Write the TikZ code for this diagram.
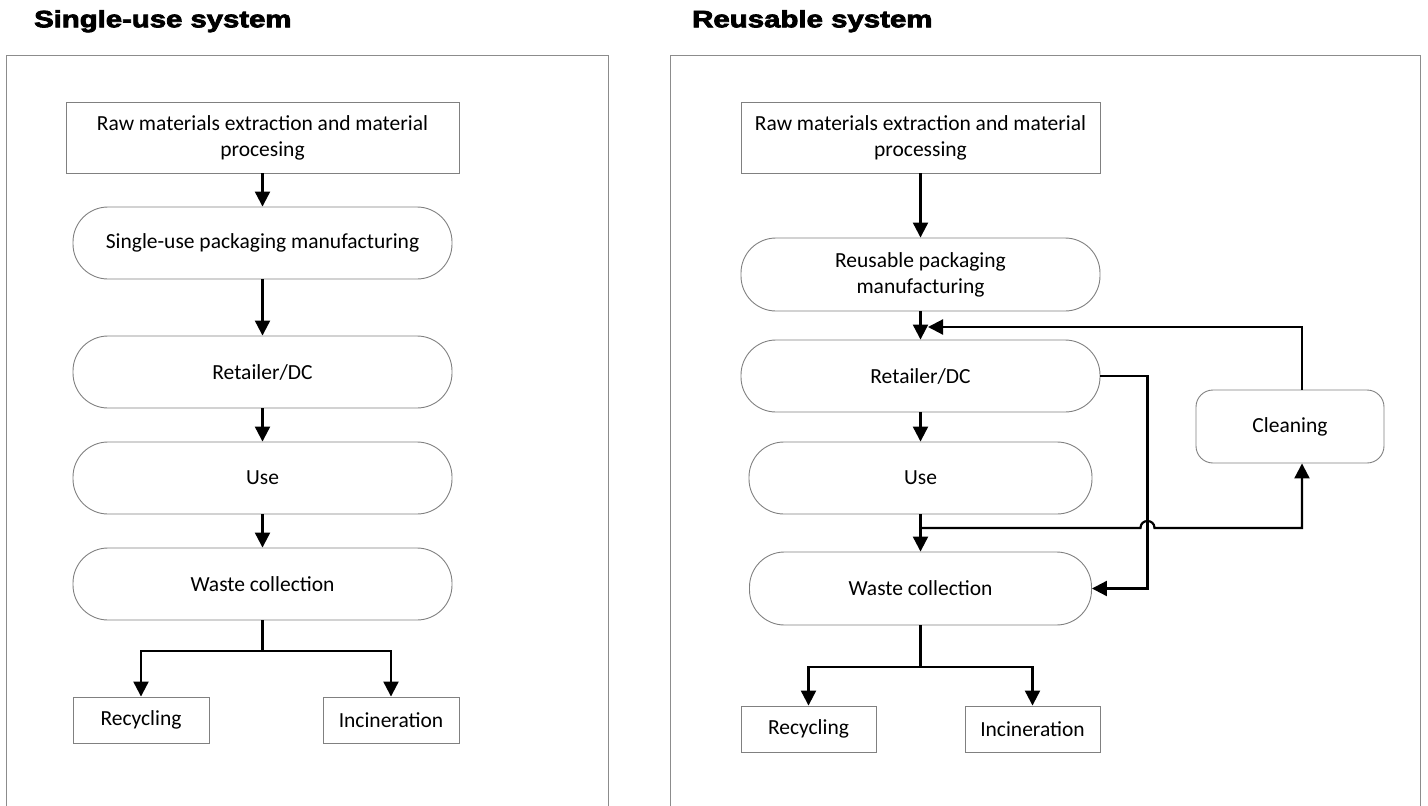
\documentclass[tikz,border=0pt]{standalone}
\usepackage{fontspec}
\setmainfont{Carlito}
\newfontfamily\titlefont[BoldFeatures={FakeBold=3}]{Liberation Sans}
\usetikzlibrary{arrows.meta,calc}
\definecolor{boxgray}{RGB}{128,128,128}
\definecolor{panelgray}{RGB}{140,140,140}
\tikzset{
  x=1pt, y=-1pt,
  box/.style={draw=boxgray, line width=0.9pt, rectangle, inner sep=0pt, align=center,
    font=\fontsize{21.5}{26}\selectfont},
  stad/.style={box, rounded corners=35pt},
  roundbox/.style={box, rounded corners=17pt},
  ln/.style={line width=2.2pt},
  arr/.style={line width=2.2pt, -{Triangle[length=15pt,width=15pt]}},
  panel/.style={draw=panelgray, line width=0.9pt},
  ttl/.style={anchor=base west, inner sep=0pt}
}
\begin{document}
\begin{tikzpicture}
\useasboundingbox (0,0) rectangle (1428,806);
% panels
\draw[panel] (6,806) -- (6,55) -- (608,55) -- (608,806);
\draw[panel] (670,806) -- (670,55) -- (1420,55) -- (1420,806);
% titles
\node[ttl] (t1) at (34,27.3) {\scalebox{1.285}[1.04]{\titlefont\bfseries\fontsize{22.8}{26}\selectfont Single-use system}};
\node[ttl] (t2) at (692,27.3) {\scalebox{1.29}[1.04]{\titlefont\bfseries\fontsize{22.8}{26}\selectfont Reusable system}};
% left column
\node[box, minimum width=393pt, minimum height=71pt] (Lraw) at (262.5,137.5) {Raw materials extraction and material\\procesing};
\node[stad, minimum width=379pt, minimum height=72pt] (Lman) at (262.5,243) {Single-use packaging manufacturing};
\node[stad, minimum width=379pt, minimum height=72pt] (Lret) at (262.5,372) {Retailer/DC};
\node[stad, minimum width=379pt, minimum height=72pt] (Luse) at (262.5,478) {Use};
\node[stad, minimum width=379pt, minimum height=72pt] (Lwaste) at (262.5,584) {Waste collection};
\node[box, minimum width=136pt, minimum height=46pt] (Lrec) at (141,720) {Recycling};
\node[box, minimum width=136pt, minimum height=46pt] (Linc) at (391,720) {Incineration};
\draw[arr] (Lraw) -- (Lman);
\draw[arr] (Lman) -- (Lret);
\draw[arr] (Lret) -- (Luse);
\draw[arr] (Luse) -- (Lwaste);
\coordinate (Lb) at (262.5,651);
\draw[arr] (Lwaste.south) -- (Lb) -| (Lrec.north);
\draw[arr] (Lb) -| (Linc.north);
% right column
\node[box, minimum width=359pt, minimum height=71pt] (Rraw) at (920.5,137.5) {Raw materials extraction and material\\processing};
\node[stad, minimum width=359pt, minimum height=73pt] (Rman) at (920.5,274.5) {Reusable packaging\\manufacturing};
\node[stad, minimum width=359pt, minimum height=72pt] (Rret) at (920.5,376) {Retailer/DC};
\node[stad, minimum width=343pt, minimum height=72pt] (Ruse) at (920.5,478) {Use};
\node[stad, minimum width=342pt, minimum height=73pt] (Rwaste) at (920.5,588.5) {Waste collection};
\node[box, minimum width=135pt, minimum height=46pt] (Rrec) at (808.5,729) {Recycling};
\node[box, minimum width=135pt, minimum height=46pt] (Rinc) at (1032.5,729) {Incineration};
\node[roundbox, minimum width=188pt, minimum height=73pt] (Rclean) at (1290,426.5) {Cleaning};
\draw[arr] (Rraw) -- (Rman);
\draw[arr] (Rman) -- (Rret);
\draw[arr] (Rret) -- (Ruse);
\draw[arr] (Ruse) -- (Rwaste);
% cleaning feedback to retailer
\coordinate (fbTop) at (1302,327);
\coordinate (fbEnd) at (928,327);
\draw[arr] (Rclean.north -| fbTop) -- (fbTop) -- (fbEnd);
% retailer to waste collection
\coordinate (rw) at (1147.5,376);
\draw[arr] (Rret.east) -- (rw) |- (Rwaste.east);
% use to cleaning with hop
\coordinate (uj) at (920.5,528);
\coordinate (hopA) at (1140.5,528);
\coordinate (hopB) at (1154.5,528);
\coordinate (uc) at (1302,528);
\draw[arr] (uj) -- (hopA) .. controls (1140.5,518.7) and (1154.5,518.7) .. (hopB) -- (uc) -- (Rclean.south -| uc);
% waste branches
\coordinate (Rb) at (920.5,667);
\draw[arr] (Rwaste.south) -- (Rb) -| (Rrec.north);
\draw[arr] (Rb) -| (Rinc.north);
\end{tikzpicture}
\end{document}
